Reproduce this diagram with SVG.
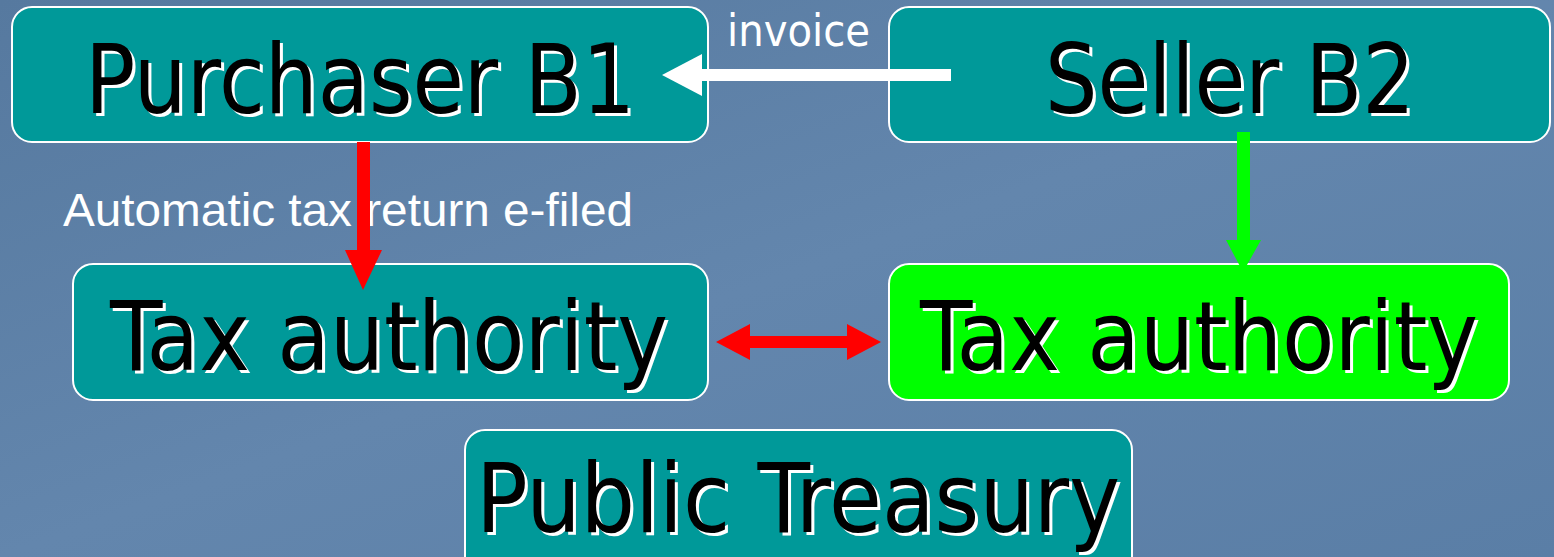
<svg xmlns="http://www.w3.org/2000/svg" width="1554" height="557" viewBox="0 0 1554 557">
<defs>
<linearGradient id="bg" x1="0" y1="0" x2="1" y2="1">
<stop offset="0" stop-color="#56799f"/>
<stop offset="0.5" stop-color="#6386ad"/>
<stop offset="1" stop-color="#5a7ea6"/>
</linearGradient>
<style>
.box{fill:#009999;stroke:#ffffff;stroke-width:2}
.green{fill:#00ff00;stroke:#ffffff;stroke-width:2}
.big{font-family:"DejaVu Sans Condensed","DejaVu Sans",sans-serif;font-size:97px}
.sh{fill:#ffffff}
.fg{fill:#000000}
.lbl{fill:#ffffff;font-family:"Liberation Sans",Arial,sans-serif}
.lblc{fill:#ffffff;font-family:"DejaVu Sans Condensed","DejaVu Sans",sans-serif}
</style>
</defs>
<rect x="0" y="0" width="1554" height="557" fill="url(#bg)"/>

<text class="lblc" x="727" y="46" font-size="44" textLength="143" lengthAdjust="spacingAndGlyphs">invoice</text>
<text class="lbl" x="63" y="226" font-size="46" textLength="570" lengthAdjust="spacingAndGlyphs">Automatic tax return e-filed</text>

<g id="purchaser">
<rect class="box" x="12" y="7" width="696" height="135" rx="20"/>
<text class="big sh" x="88" y="116" textLength="550" lengthAdjust="spacingAndGlyphs">Purchaser B1</text>
<text class="big fg" x="85" y="113" textLength="550" lengthAdjust="spacingAndGlyphs">Purchaser B1</text>
</g>

<g id="seller">
<rect class="box" x="889" y="7" width="661" height="135" rx="20"/>
<text class="big sh" x="1048" y="116" textLength="370" lengthAdjust="spacingAndGlyphs">Seller B2</text>
<text class="big fg" x="1045" y="113" textLength="370" lengthAdjust="spacingAndGlyphs">Seller B2</text>
</g>

<g id="tax-left">
<rect class="box" x="73" y="264" width="635" height="136" rx="20"/>
<text class="big sh" x="113" y="373" textLength="558" lengthAdjust="spacingAndGlyphs">Tax authority</text>
<text class="big fg" x="110" y="370" textLength="558" lengthAdjust="spacingAndGlyphs">Tax authority</text>
</g>

<g id="tax-right">
<rect class="green" x="889" y="264" width="620" height="136" rx="20"/>
<text class="big sh" x="923" y="373" textLength="558" lengthAdjust="spacingAndGlyphs">Tax authority</text>
<text class="big fg" x="920" y="370" textLength="558" lengthAdjust="spacingAndGlyphs">Tax authority</text>
</g>

<g id="treasury">
<rect class="box" x="465" y="430" width="667" height="170" rx="20"/>
<text class="big sh" x="479" y="535" textLength="644" lengthAdjust="spacingAndGlyphs">Public Treasury</text>
<text class="big fg" x="476" y="532" textLength="644" lengthAdjust="spacingAndGlyphs">Public Treasury</text>
</g>

<g id="connectors">
<!-- invoice arrow -->
<rect x="700" y="69" width="251" height="12" fill="#ffffff"/>
<polygon points="662,75 702,54 702,96" fill="#ffffff"/>
<!-- red down arrow -->
<rect x="357" y="142" width="13" height="112" fill="#ff0000"/>
<polygon points="345,250 382,250 363,290" fill="#ff0000"/>
<!-- green down arrow -->
<rect x="1237" y="132" width="13" height="112" fill="#00ff00"/>
<polygon points="1226,240 1261,240 1243,272" fill="#00ff00"/>
<!-- red double arrow -->
<rect x="748" y="336" width="102" height="12" fill="#ff0000"/>
<polygon points="716,342 750,324 750,360" fill="#ff0000"/>
<polygon points="881,342 847,324 847,360" fill="#ff0000"/>
</g>
</svg>
